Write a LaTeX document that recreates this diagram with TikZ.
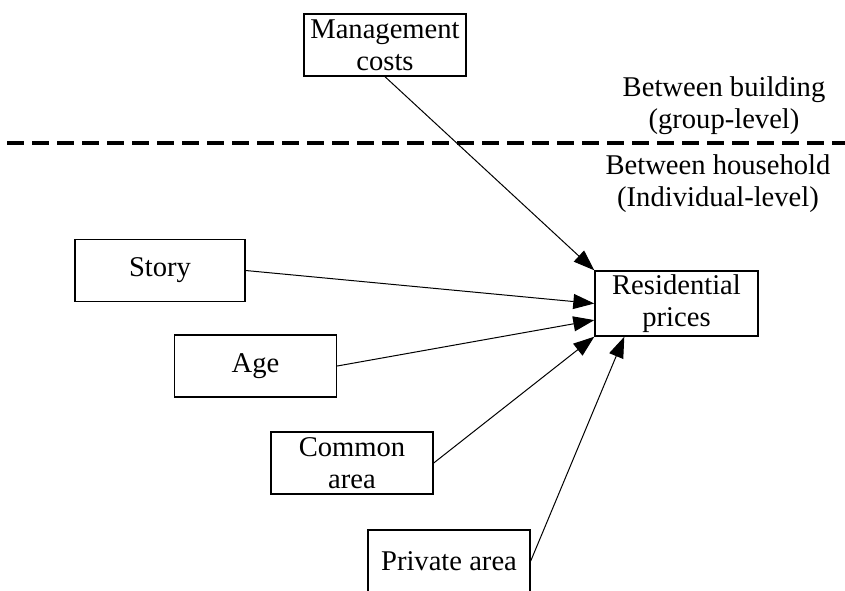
\documentclass[tikz,border=0pt]{standalone}
\usepackage{fontspec}
\setmainfont{Liberation Serif}
\usetikzlibrary{calc,arrows.meta}
\begin{document}
\begin{tikzpicture}[x=0.5pt,y=-0.5pt]
\tikzstyle{every node}+=[inner sep=0pt,font=\fontsize{14.3}{16}\selectfont]
\tikzstyle{factor}=[draw,line width=0.7pt,minimum width=81pt,minimum height=31pt,align=center]
\tikzstyle{effect}=[line width=0.5pt,-{Triangle[length=10.5pt,width=7.5pt]}]
\tikzstyle{level}=[align=center]
\clip (0,0) rectangle (845,590);
\node [factor] (mgmt) at (385,45) {Management\\costs};
\node [factor,minimum width=85pt] (story) at (160,270.5) {Story};
\node [factor] (age) at (255.5,366) {Age};
\node [factor] (common) at (352,463) {Common\\area};
\node [factor] (private) at (449,561) {Private area};
\node [factor,minimum width=81.5pt,minimum height=32.5pt] (res) at (676.5,303.5) {Residential\\prices};
\node [level] (between) at (724,106) {Between building\\(group-level)};
\node [level] (within) at (718,184) {Between household\\(Individual-level)};
\coordinate (dashL) at (7,143);
\coordinate (dashR) at (845,143);
\draw [line width=1.7pt,dash pattern=on 8.5pt off 4pt] (dashL) -- (dashR);
\draw [effect] (mgmt.south) -- (res.north west);
\draw [effect] (story.east) -- (res.west);
\draw [effect] (age.east) -- ($(res.west)!0.5!(res.south west)$);
\draw [effect] (common.east) -- (res.south west);
\draw [effect] (private.east) -- ([xshift=15pt]res.south west);
\end{tikzpicture}
\end{document}
